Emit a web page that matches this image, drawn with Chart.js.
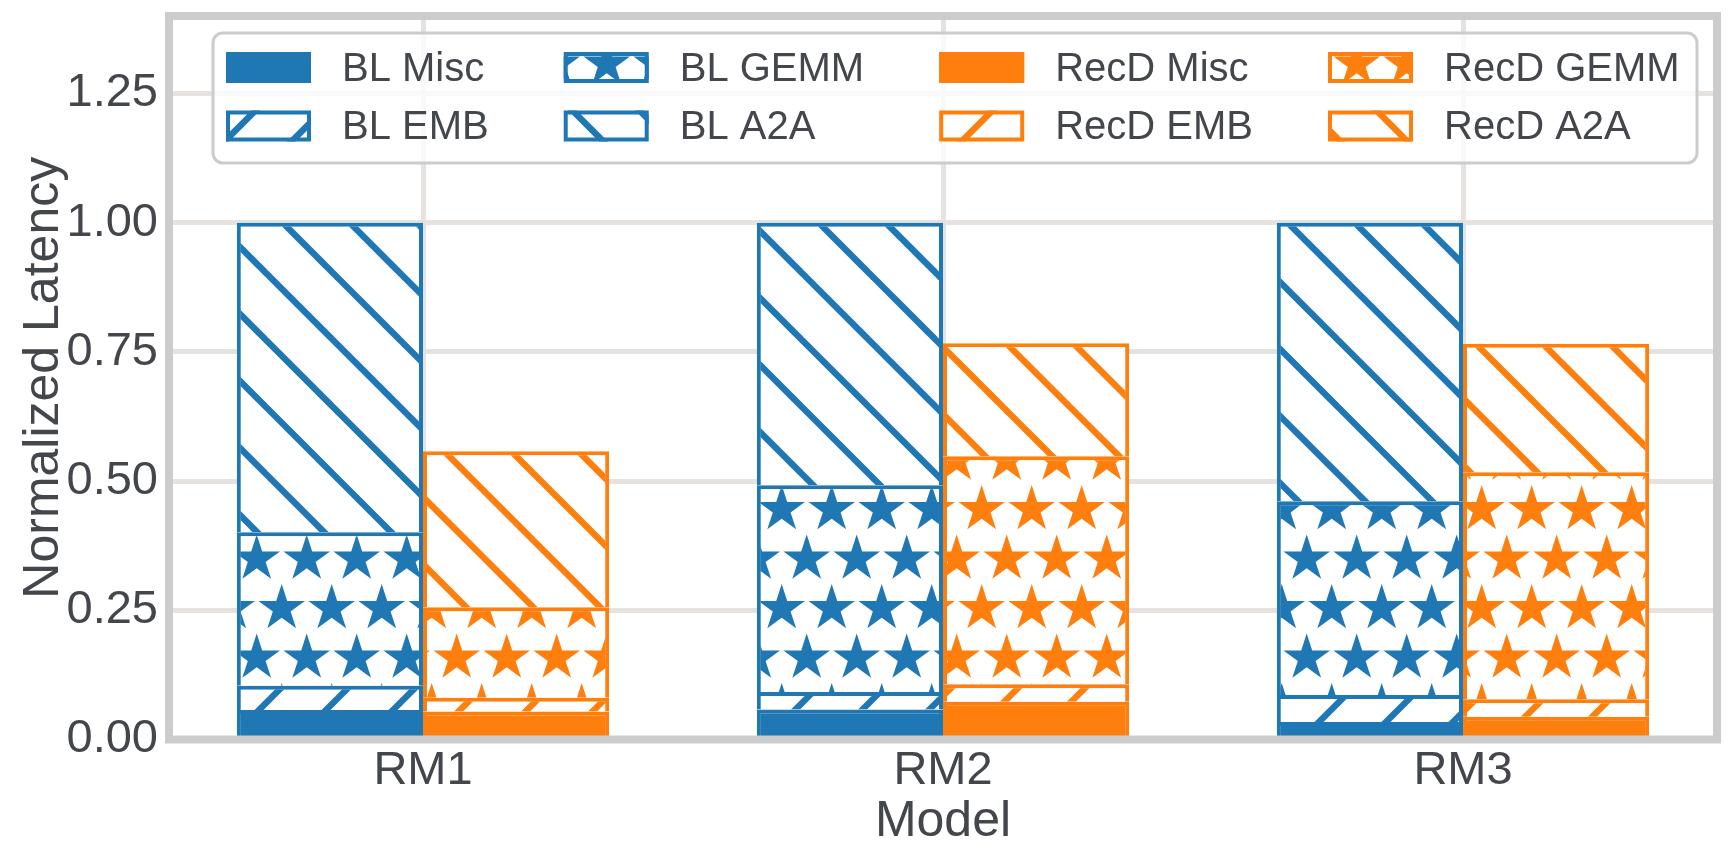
<!DOCTYPE html>
<html>
<head>
<meta charset="utf-8">
<script src="https://cdn.jsdelivr.net/npm/chart.js@4.4.0/dist/chart.umd.min.js"></script>
<style>
  html, body { margin: 0; padding: 0; background: #fff; }
  canvas { display: block; }
</style>
</head>
<body>
<canvas id="chart" width="1730" height="853"></canvas>
<script>
// values (normalized latency, per segment)
const models = ['RM1', 'RM2', 'RM3'];
const blMisc = [0.057, 0.058, 0.034];
const blEmb = [0.047, 0.034, 0.052];
const blGemm = [0.297, 0.400, 0.375];
const blA2a = [0.599, 0.508, 0.539];
const recdMisc = [0.054, 0.073, 0.044];
const recdEmb = [0.027, 0.034, 0.034];
const recdGemm = [0.175, 0.441, 0.439];
const recdA2a = [0.302, 0.219, 0.249];
const yTicks = [0, 0.25, 0.5, 0.75, 1.0, 1.25];

const BLUE = '#1f77b4';
const ORANGE = '#ff7f0e';
const TEXT = '#43464b';
const GRID = '#e6e2df';
const FONT = "'Liberation Sans', Arial, sans-serif";
const FRAME_INSET = 6; // spines sit a little inside the x data range

// hatch tiles, anchored to the canvas origin like matplotlib hatches
function linePattern(color, dir) {
    const P = 67;
    const c = document.createElement('canvas');
    c.width = P; c.height = P;
    const g = c.getContext('2d');
    g.fillStyle = '#fff';
    g.fillRect(0, 0, P, P);
    g.strokeStyle = color;
    g.lineWidth = 6.5;
    for (let m = -2; m <= 2; m++) {
        g.beginPath();
        if (dir === '/') {
            const k = 31 + m * P;          // x + y = k
            g.moveTo(-20, k + 20);
            g.lineTo(P + 20, k - P - 20);
        } else {
            const k = 60 + m * P;          // x - y = k
            g.moveTo(-20, -20 - k);
            g.lineTo(P + 20, P + 20 - k);
        }
        g.stroke();
    }
    return g.createPattern(c, 'repeat');
}

function starPattern(color) {
    const W = 50, H = 99, R = 24.5, r = R * 0.382;
    const c = document.createElement('canvas');
    c.width = W; c.height = H;
    const g = c.getContext('2d');
    g.fillStyle = '#fff';
    g.fillRect(0, 0, W, H);
    g.fillStyle = color;
    const centers = [[6.7, 64], [31.7, 14.5]];
    centers.forEach(([cx0, cy0]) => {
        for (let i = -1; i <= 1; i++) {
            for (let j = -1; j <= 1; j++) {
                const cx = cx0 + i * W, cy = cy0 + j * H;
                g.beginPath();
                for (let p = 0; p < 10; p++) {
                    const a = -Math.PI / 2 + p * Math.PI / 5;
                    const rad = p % 2 === 0 ? R : r;
                    const x = cx + rad * Math.cos(a), y = cy + rad * Math.sin(a);
                    if (p === 0) g.moveTo(x, y); else g.lineTo(x, y);
                }
                g.closePath();
                g.fill();
            }
        }
    });
    return g.createPattern(c, 'repeat');
}

function seg(label, data, stack, color, fill) {
    return {
        label: label,
        data: data,
        stack: stack,
        backgroundColor: fill,
        borderColor: color,
        borderWidth: { top: 4, left: 4, right: 4, bottom: 0 },
        borderSkipped: false,
    };
}

const datasets = [
    seg('BL Misc', blMisc, 'BL', BLUE, BLUE),
    seg('BL EMB', blEmb, 'BL', BLUE, linePattern(BLUE, '/')),
    seg('BL GEMM', blGemm, 'BL', BLUE, starPattern(BLUE)),
    seg('BL A2A', blA2a, 'BL', BLUE, linePattern(BLUE, '\\')),
    seg('RecD Misc', recdMisc, 'RecD', ORANGE, ORANGE),
    seg('RecD EMB', recdEmb, 'RecD', ORANGE, linePattern(ORANGE, '/')),
    seg('RecD GEMM', recdGemm, 'RecD', ORANGE, starPattern(ORANGE)),
    seg('RecD A2A', recdA2a, 'RecD', ORANGE, linePattern(ORANGE, '\\')),
];

// frame around the plot area, drawn over the bars like the spines
const framePlugin = {
    id: 'frame',
    afterDatasetsDraw(chart) {
        const { ctx, chartArea: a } = chart;
        ctx.save();
        // hide the grid stubs outside the spines
        ctx.fillStyle = '#fff';
        ctx.fillRect(a.left - 1, a.top - 4, FRAME_INSET, a.bottom - a.top + 8);
        ctx.fillRect(a.right - FRAME_INSET + 1, a.top - 4, FRAME_INSET, a.bottom - a.top + 8);
        ctx.strokeStyle = '#cccccc';
        ctx.lineWidth = 8;
        ctx.strokeRect(a.left + FRAME_INSET, a.top, a.right - a.left - 2 * FRAME_INSET, a.bottom - a.top);
        ctx.restore();
    }
};

// legend inside the axes, 4 columns, filled column by column
const legendPlugin = {
    id: 'innerLegend',
    afterDraw(chart) {
        const ctx = chart.ctx;
        const ds = chart.data.datasets;
        const rows = 2, cols = 4;
        const boxW = 85, boxH = 31, textGap = 31, colGap = 75;
        const rowY = [67.5, 126];
        ctx.save();
        ctx.font = '40px ' + FONT;
        // legend frame
        const bx = 213, by = 33, bw = 1484, bh = 130, rad = 10;
        ctx.beginPath();
        ctx.moveTo(bx + rad, by);
        ctx.arcTo(bx + bw, by, bx + bw, by + bh, rad);
        ctx.arcTo(bx + bw, by + bh, bx, by + bh, rad);
        ctx.arcTo(bx, by + bh, bx, by, rad);
        ctx.arcTo(bx, by, bx + bw, by, rad);
        ctx.closePath();
        ctx.fillStyle = 'rgba(255,255,255,0.8)';
        ctx.fill();
        ctx.strokeStyle = '#cccccc';
        ctx.lineWidth = 3;
        ctx.stroke();

        let x = 226;
        for (let c = 0; c < cols; c++) {
            let maxW = 0;
            for (let r = 0; r < rows; r++) {
                const d = ds[c * rows + r];
                if (!d) continue;
                const y = rowY[r];
                ctx.fillStyle = d.backgroundColor;
                ctx.fillRect(x, y - boxH / 2, boxW, boxH);
                ctx.strokeStyle = d.borderColor;
                ctx.lineWidth = 4;
                ctx.strokeRect(x + 2, y - boxH / 2 + 2, boxW - 4, boxH - 4);
                ctx.fillStyle = TEXT;
                ctx.textBaseline = 'middle';
                ctx.textAlign = 'left';
                ctx.fillText(d.label, x + boxW + textGap, y + 2);
                maxW = Math.max(maxW, ctx.measureText(d.label).width);
            }
            x += boxW + textGap + maxW + colGap;
        }
        ctx.restore();
    }
};

function noPad(scale) {
    scale.paddingTop = 0;
    scale.paddingBottom = 0;
    scale.paddingLeft = 0;
    scale.paddingRight = 0;
}

new Chart(document.getElementById('chart'), {
    type: 'bar',
    data: { labels: models, datasets: datasets },
    options: {
        responsive: false,
        animation: false,
        devicePixelRatio: 1,
        layout: { padding: { top: 16, right: 7, left: 0, bottom: 0 } },
        datasets: { bar: { categoryPercentage: 0.716, barPercentage: 1.0 } },
        plugins: { legend: { display: false }, tooltip: { enabled: false } },
        scales: {
            x: {
                stacked: true,
                grid: { color: GRID, lineWidth: 5, offset: false, drawTicks: false },
                border: { display: false },
                ticks: { color: TEXT, font: { family: FONT, size: 47 }, padding: 3 },
                title: { display: true, text: 'Model', color: TEXT, font: { family: FONT, size: 50 }, padding: { top: 0, bottom: 1 } },
                afterFit(scale) { scale.height = 113.5; noPad(scale); }
            },
            y: {
                stacked: true,
                min: 0,
                max: 1.4,
                grid: { color: GRID, lineWidth: 5, drawTicks: false },
                border: { display: false },
                ticks: { color: TEXT, font: { family: FONT, size: 47 }, padding: 5, callback: v => v.toFixed(2) },
                afterBuildTicks(axis) { axis.ticks = yTicks.map(v => ({ value: v })); },
                title: { display: true, text: 'Normalized Latency', color: TEXT, font: { family: FONT, size: 50 }, padding: { top: 14, bottom: 0 } },
                afterFit(scale) { scale.width = 163; noPad(scale); }
            }
        }
    },
    plugins: [framePlugin, legendPlugin]
});
</script>
</body>
</html>
